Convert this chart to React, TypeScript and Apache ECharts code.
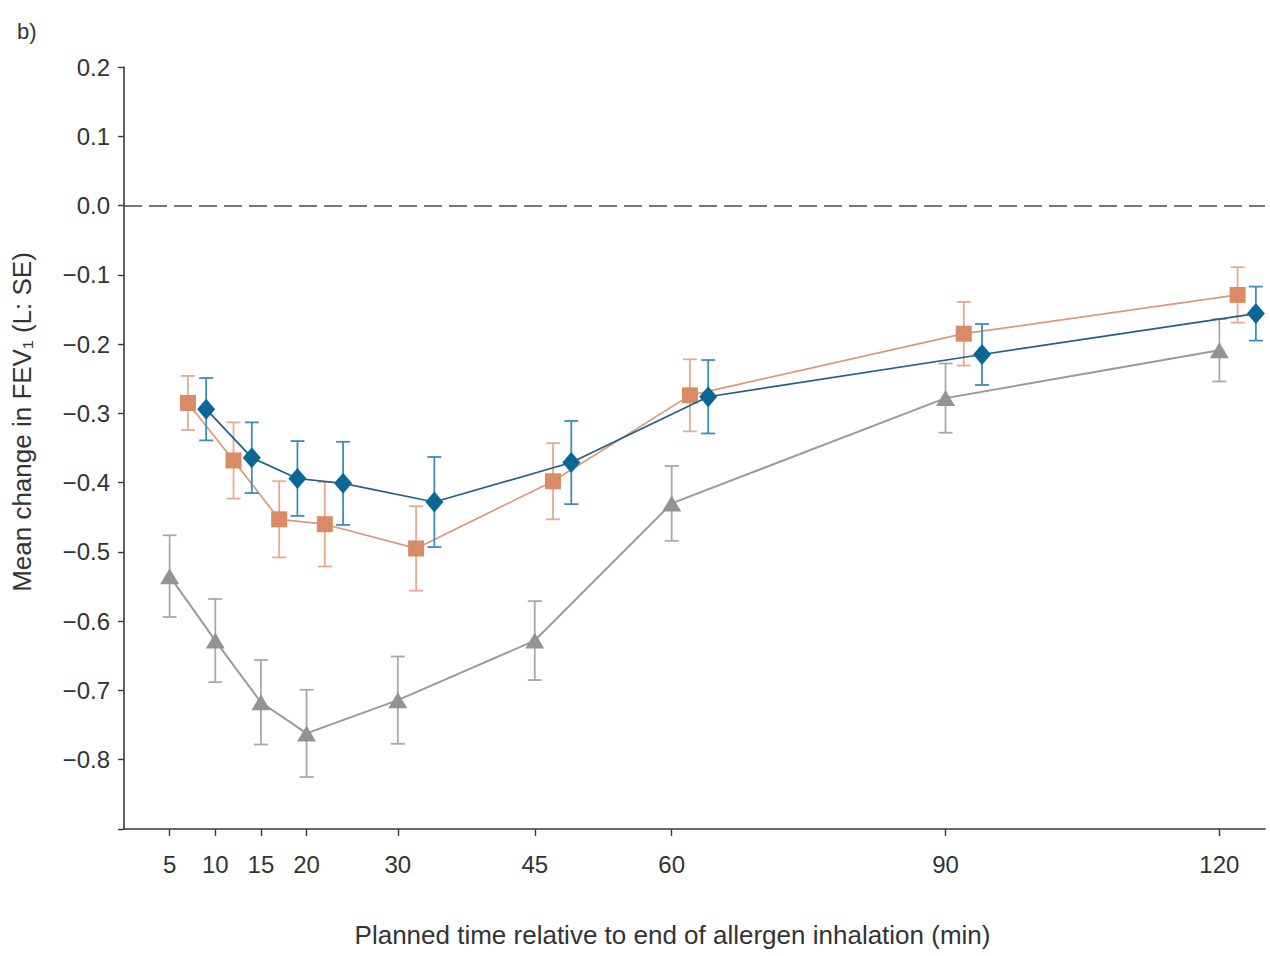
import React, { useEffect, useRef } from "react";
import * as echarts from "echarts";

// Planned times (min)
const plannedTimes = [5, 10, 15, 20, 30, 45, 60, 90, 120];
const xTickValues = [5, 10, 15, 20, 30, 45, 60, 90, 120];

// Series values (mean change in FEV1, L) and standard errors
const greyMean = [-0.535, -0.628, -0.717, -0.762, -0.714, -0.628, -0.43, -0.278, -0.209];
const greySE = [0.059, 0.06, 0.061, 0.063, 0.063, 0.057, 0.054, 0.05, 0.045];

const orangeMean = [-0.285, -0.368, -0.453, -0.46, -0.495, -0.398, -0.274, -0.185, -0.129];
const orangeSE = [0.039, 0.055, 0.055, 0.061, 0.061, 0.055, 0.052, 0.046, 0.04];

const blueMean = [-0.294, -0.364, -0.394, -0.401, -0.428, -0.371, -0.276, -0.215, -0.156];
const blueSE = [0.045, 0.051, 0.054, 0.06, 0.065, 0.06, 0.053, 0.044, 0.039];

const FONT = '"Liberation Sans", Arial, Helvetica, sans-serif';
const TEXT = "#333333";

type SeriesDef = {
  name: string;
  mean: number[];
  se: number[];
  dodge: number;
  symbol: string;
  symbolSize: number | number[];
  marker: string;
  line: string;
  lineWidth: number;
  err: string;
};

const defs: SeriesDef[] = [
  { name: "Series A", mean: greyMean, se: greySE, dodge: 0, symbol: "triangle", symbolSize: [19, 16], marker: "#939393", line: "#9a9a9a", lineWidth: 2, err: "#a9a9a9" },
  { name: "Series B", mean: orangeMean, se: orangeSE, dodge: 2, symbol: "rect", symbolSize: 16, marker: "#d98b66", line: "#dc9878", lineWidth: 1.7, err: "#e6aa90" },
  { name: "Series C", mean: blueMean, se: blueSE, dodge: 4, symbol: "diamond", symbolSize: [18, 21], marker: "#0b6796", line: "#215f84", lineWidth: 1.7, err: "#3a8fb6" },
];

export default function App() {
  const ref = useRef<HTMLDivElement>(null);

  useEffect(() => {
    document.body.style.margin = "0";
    const chart = echarts.init(ref.current!, null, { renderer: "svg" });

    const series: any[] = [];
    defs.forEach((d, si) => {
      const errData = plannedTimes.map((t, i) => [t + d.dodge, d.mean[i] - d.se[i], d.mean[i] + d.se[i]]);
      series.push({
        type: "custom",
        name: d.name + " SE",
        z: 2 + si * 3,
        data: errData,
        encode: { x: 0, y: [1, 2] },
        renderItem: (params: any, api: any) => {
          const x = api.value(0);
          const lo = api.coord([x, api.value(1)]);
          const hi = api.coord([x, api.value(2)]);
          const cap = 7;
          const style = { stroke: d.err, lineWidth: 1.8 };
          return {
            type: "group",
            children: [
              { type: "line", shape: { x1: lo[0], y1: lo[1], x2: hi[0], y2: hi[1] }, style },
              { type: "line", shape: { x1: lo[0] - cap, y1: lo[1], x2: lo[0] + cap, y2: lo[1] }, style },
              { type: "line", shape: { x1: hi[0] - cap, y1: hi[1], x2: hi[0] + cap, y2: hi[1] }, style },
            ],
          };
        },
      });
      const lineSeries: any = {
        type: "line",
        name: d.name,
        z: 3 + si * 3,
        data: plannedTimes.map((t, i) => [t + d.dodge, d.mean[i]]),
        symbol: d.symbol,
        symbolSize: d.symbolSize,
        itemStyle: { color: d.marker },
        lineStyle: { color: d.line, width: d.lineWidth },
        showSymbol: true,
      };
      if (si === 0) {
        lineSeries.markLine = {
          silent: true,
          symbol: "none",
          label: { show: false },
          lineStyle: { color: "#4a4a4a", width: 1.6, type: [18, 7] },
          data: [{ yAxis: 0 }],
        };
      }
      series.push(lineSeries);
    });

    chart.setOption({
      animation: false,
      backgroundColor: "#ffffff",
      textStyle: { fontFamily: FONT },
      grid: { left: 124, right: 5, top: 67, bottom: 127, containLabel: false },
      graphic: [
        {
          type: "text",
          left: 17,
          top: 20,
          style: { text: "b)", fontSize: 22, fontFamily: FONT, fill: TEXT },
        },
      ],
      xAxis: {
        type: "value",
        min: 0,
        max: 125,
        name: "Planned time relative to end of allergen inhalation (min)",
        nameLocation: "middle",
        nameGap: 93,
        nameTextStyle: { fontSize: 26, color: TEXT, fontFamily: FONT, padding: [0, 44, 0, 0] },
        axisLine: { show: true, onZero: false, lineStyle: { color: "#3a3a3a", width: 1.6 } },
        axisTick: { show: true, length: 7, customValues: xTickValues, lineStyle: { color: "#3a3a3a", width: 1.4 } },
        axisLabel: { customValues: xTickValues, fontSize: 24, color: TEXT, margin: 23, fontFamily: FONT },
        splitLine: { show: false },
      },
      yAxis: {
        type: "value",
        min: -0.9,
        max: 0.2,
        interval: 0.1,
        name: "Mean change in FEV\u2081 (L: SE)",
        nameLocation: "middle",
        nameGap: 89,
        nameRotate: 90,
        nameTextStyle: { fontSize: 26, color: TEXT, fontFamily: FONT, padding: [0, 0, 0, 52] },
        axisLine: { show: true, onZero: false, lineStyle: { color: "#3a3a3a", width: 1.6 } },
        axisTick: { show: true, length: 6, lineStyle: { color: "#3a3a3a", width: 1.4 } },
        axisLabel: {
          fontSize: 24,
          color: TEXT,
          margin: 14,
          fontFamily: FONT,
          formatter: (v: number) => {
            if (v < -0.85) return "";
            const s = Math.abs(v).toFixed(1);
            return v < -0.0001 ? "\u2212" + s : s;
          },
        },
        splitLine: { show: false },
      },
      series,
    });

    return () => chart.dispose();
  }, []);

  return <div ref={ref} style={{ width: 1270, height: 956 }} />;
}
